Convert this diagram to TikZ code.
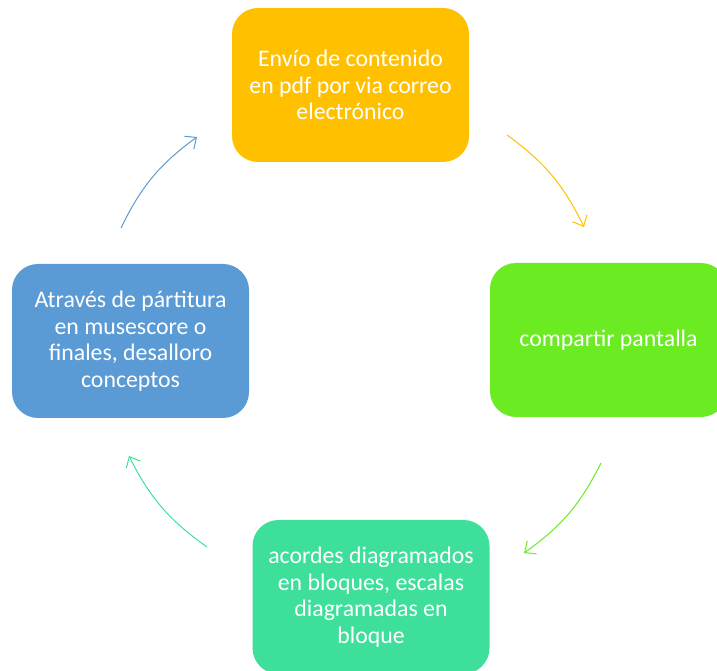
\documentclass[tikz,border=0pt]{standalone}
\usepackage{fontspec}
\setmainfont{Carlito}
\usetikzlibrary{arrows.meta}
\definecolor{cTop}{HTML}{FFC000}
\definecolor{cRight}{HTML}{6AEB22}
\definecolor{cBottom}{HTML}{3EDF9B}
\definecolor{cLeft}{HTML}{5B9BD5}
\tikzset{
  box/.style={rounded corners=26pt, minimum width=237pt, minimum height=154pt,
    inner sep=0pt, align=center, text=white,
    font=\fontsize{23.8pt}{26.6pt}\selectfont},
  cyc/.style={line width=1pt, -{Straight Barb[length=9pt,width=16pt,line width=1pt]}},
}
\begin{document}
\begin{tikzpicture}[x=1pt,y=1pt]
\useasboundingbox (0,0) rectangle (717,671);
\clip (0,0) rectangle (717,671);
\node[box, fill=cTop] (top) at (350.5,586) {Envío de contenido\\en pdf por via correo\\electrónico};
\node[box, fill=cRight] (right) at (608.5,331) {compartir pantalla};
\node[box, fill=cBottom] (bottom) at (371,74) {acordes diagramados\\en bloques, escalas\\diagramadas en\\bloque};
\node[box, fill=cLeft] (left) at (130.5,330) {Através de pártitura\\en musescore o\\finales, desalloro\\conceptos};
\coordinate (a1s) at (507,536);
\coordinate (a1e) at (584,444);
\coordinate (a2s) at (601,208);
\coordinate (a2e) at (524,118);
\coordinate (a3s) at (207,124);
\coordinate (a3e) at (129,215);
\coordinate (a4s) at (121,443);
\coordinate (a4e) at (197,534);
\draw[cyc, draw=cTop] (a1s) to[bend left=14] (a1e);
\draw[cyc, draw=cRight] (a2s) to[bend left=14] (a2e);
\draw[cyc, draw=cBottom] (a3s) to[bend left=14] (a3e);
\draw[cyc, draw=cLeft] (a4s) to[bend left=14] (a4e);
\end{tikzpicture}
\end{document}
